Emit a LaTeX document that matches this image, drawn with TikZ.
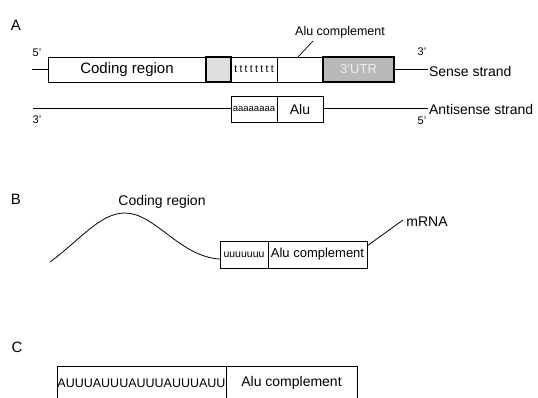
\documentclass[tikz,border=0pt]{standalone}
\usepackage{fontspec}
\setmainfont{Liberation Sans}
\begin{document}
\begin{tikzpicture}[x=1pt,y=-1pt,
  every node/.style={inner sep=0pt,outer sep=0pt},
  seg/.style={draw=black,line width=0.8pt,fill=white,minimum height=#1,anchor=center},
  seg/.default=25,
  strand/.style={line width=0.8pt},
  lbl/.style={font=\fontsize{14}{16}\selectfont},
  panel/.style={font=\fontsize{15}{17}\selectfont},
  prime/.style={font=\fontsize{11}{13}\selectfont}]
\useasboundingbox (0,0) rectangle (538,397);
\clip (0,0) rectangle (538,397);

% ---------- A: duplex with the Alu insertion ----------
\node[panel] (pA) at (16,25) {A};

% sense strand
\node[seg,minimum width=158] (coding) at (127,69.5) {\fontsize{15}{17}\selectfont Coding region};
\node[seg,minimum width=25,fill=gray!25,line width=1.4pt] (shade) at (218.5,69.5) {};
\node[seg,minimum width=46] (tbox) at (254,69.5)
  {\fontsize{10.5}{12}\selectfont t\kern2.3pt t\kern2.3pt t\kern2.3pt t\kern2.3pt t\kern2.3pt t\kern2.3pt t\kern2.3pt t};
\node[seg,minimum width=46] (alucomp) at (300,69.5) {};
\node[seg,minimum width=71,fill=gray!55,line width=1.6pt] (utr) at (358.5,69.5)
  {\textcolor{white!85!gray}{\fontsize{13}{15}\selectfont 3'UTR}};
\coordinate (s5) at (32,69.5);
\coordinate (s3) at (428,69.5);
\draw[strand] (s5) -- (coding.west);
\draw[strand] (utr.east) -- (s3);
\node[lbl,anchor=west] (sense) at (429,71) {Sense strand};
\node[prime] (p5a) at (37,53) {5'};
\node[prime] (p3a) at (422,52) {3'};

% Alu complement label with leader
\node[font=\fontsize{12.5}{14}\selectfont] (alulbl) at (340,32) {Alu complement};
\coordinate (lead) at (313,41);
\draw[line width=0.7pt] (lead) -- (alucomp.north west -| 298,0);

% antisense strand
\node[seg=26,minimum width=46] (abox) at (254,109) {\fontsize{9.5}{11}\selectfont aaaaaaaa};
\node[seg=26,minimum width=46] (alu) at (300,109) {\fontsize{14}{16}\selectfont Alu};
\coordinate (a3) at (33,108);
\coordinate (a5) at (428,108);
\draw[strand] (a3) -- (abox.west |- a3);
\draw[strand] (alu.east |- a5) -- (a5);
\node[lbl,anchor=west] (antisense) at (429,109) {Antisense strand};
\node[prime] (p3b) at (37,120) {3'};
\node[prime] (p5b) at (422,121) {5'};

% ---------- B: mRNA ----------
\node[panel] (pB) at (16,199) {B};
\node[lbl] (codB) at (162,202) {Coding region};
\node[seg=27,minimum width=48] (ubox) at (244,254.5) {\fontsize{10.5}{12}\selectfont uuuuuuu};
\node[seg=27,minimum width=99] (acB) at (317.5,254.5) {\fontsize{13}{15}\selectfont Alu complement};
\coordinate (mstart) at (50,262);
\draw[strand] (mstart) .. controls (80,240) and (100,213) .. (125,213)
  .. controls (155,213) and (180,257) .. (ubox.west |- 0,259);
\coordinate (mend) at (403,220);
\draw[strand] (acB.north east |- 0,246) -- (mend);
\node[lbl] (mrna) at (427,222) {mRNA};

% ---------- C: repeat fused to Alu complement ----------
\node[panel] (pC) at (17,347) {C};
\node[seg=34,minimum width=169] (rep) at (141.5,383) {\fontsize{12.5}{14}\selectfont AUUUAUUUAUUUAUUUAUU};
\node[seg=34,minimum width=131] (acC) at (291.5,383) {\fontsize{14}{16}\selectfont Alu complement};
\end{tikzpicture}
\end{document}
